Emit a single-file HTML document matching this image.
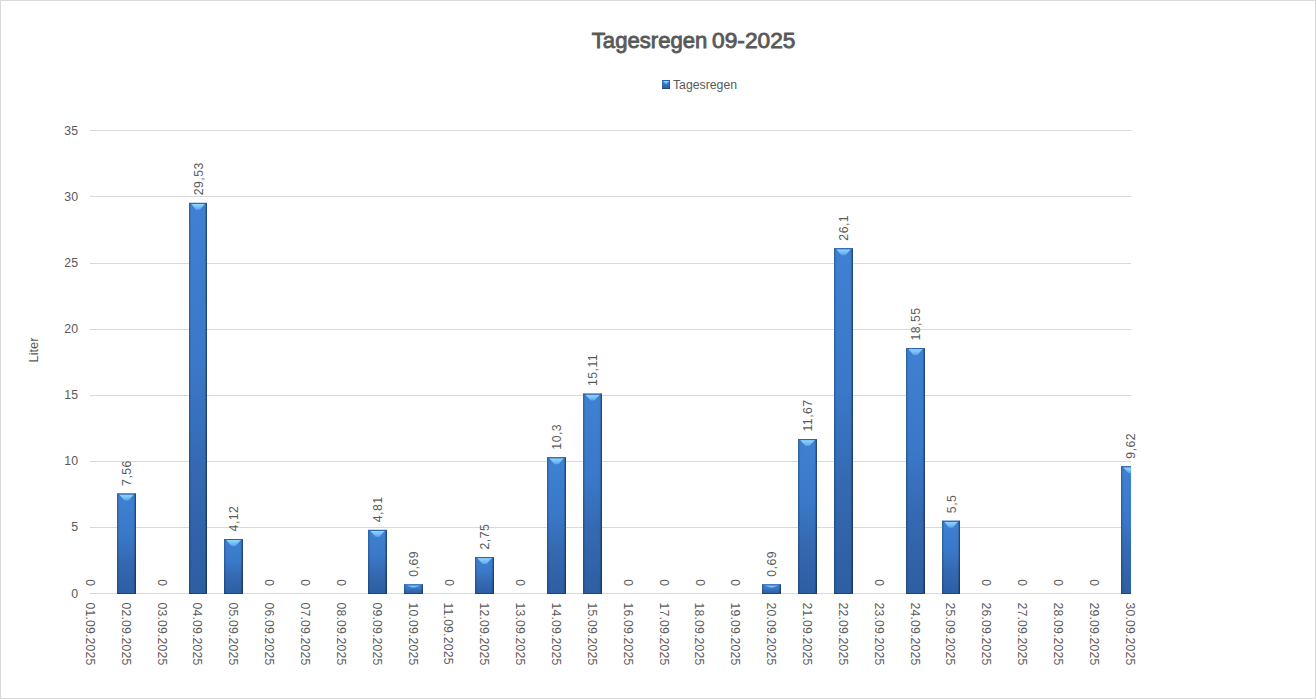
<!DOCTYPE html>
<html><head><meta charset="utf-8"><title>Tagesregen 09-2025</title>
<style>
html,body{margin:0;padding:0;background:#fff;}
body{width:1316px;height:699px;overflow:hidden;}
svg{display:block;font-family:"Liberation Sans", sans-serif;}
</style></head><body>
<svg width="1316" height="699" viewBox="0 0 1316 699">
<defs>
<linearGradient id="gv" x1="0" y1="0" x2="0" y2="1">
<stop offset="0" stop-color="#3f80d2"/>
<stop offset="0.4" stop-color="#3a79c9"/>
<stop offset="0.7" stop-color="#3468b0"/>
<stop offset="1" stop-color="#2c5ea2"/>
</linearGradient>
<linearGradient id="gh" x1="0" y1="0" x2="1" y2="0">
<stop offset="0" stop-color="#000" stop-opacity="0.28"/>
<stop offset="0.06" stop-color="#000" stop-opacity="0.12"/>
<stop offset="0.14" stop-color="#000" stop-opacity="0"/>
<stop offset="0.86" stop-color="#000" stop-opacity="0"/>
<stop offset="0.93" stop-color="#000" stop-opacity="0.2"/>
<stop offset="1" stop-color="#000" stop-opacity="0.55"/>
</linearGradient>
<linearGradient id="hl" x1="0" y1="0" x2="0" y2="1">
<stop offset="0" stop-color="#90d6fa"/>
<stop offset="0.45" stop-color="#7cc2f6"/>
<stop offset="1" stop-color="#58a0ea"/>
</linearGradient>
<clipPath id="pc"><rect x="90" y="0" width="1041" height="699"/></clipPath>
</defs>
<rect x="0.5" y="0.5" width="1315" height="698" fill="#fff" stroke="#d9d9d9" stroke-width="1"/>
<line x1="90" y1="593.5" x2="1131" y2="593.5" stroke="#d9d9d9" stroke-width="1"/>
<text x="78" y="597.60" text-anchor="end" font-size="12.3" fill="#595959">0</text>
<line x1="90" y1="527.5" x2="1131" y2="527.5" stroke="#d9d9d9" stroke-width="1"/>
<text x="78" y="531.46" text-anchor="end" font-size="12.3" fill="#595959">5</text>
<line x1="90" y1="461.5" x2="1131" y2="461.5" stroke="#d9d9d9" stroke-width="1"/>
<text x="78" y="465.31" text-anchor="end" font-size="12.3" fill="#595959">10</text>
<line x1="90" y1="395.5" x2="1131" y2="395.5" stroke="#d9d9d9" stroke-width="1"/>
<text x="78" y="399.17" text-anchor="end" font-size="12.3" fill="#595959">15</text>
<line x1="90" y1="329.5" x2="1131" y2="329.5" stroke="#d9d9d9" stroke-width="1"/>
<text x="78" y="333.03" text-anchor="end" font-size="12.3" fill="#595959">20</text>
<line x1="90" y1="263.5" x2="1131" y2="263.5" stroke="#d9d9d9" stroke-width="1"/>
<text x="78" y="266.89" text-anchor="end" font-size="12.3" fill="#595959">25</text>
<line x1="90" y1="196.5" x2="1131" y2="196.5" stroke="#d9d9d9" stroke-width="1"/>
<text x="78" y="200.74" text-anchor="end" font-size="12.3" fill="#595959">30</text>
<line x1="90" y1="130.5" x2="1131" y2="130.5" stroke="#d9d9d9" stroke-width="1"/>
<text x="78" y="134.60" text-anchor="end" font-size="12.3" fill="#595959">35</text>
<g clip-path="url(#pc)">
<rect x="117.00" y="493.49" width="19" height="100.51" fill="url(#gv)"/>
<path d="M119.20,494.49 L133.80,494.49 L128.50,500.49 L124.50,500.49 Z" fill="url(#hl)"/>
<rect x="117.00" y="493.49" width="19" height="100.51" fill="url(#gh)"/>
<line x1="117.00" y1="493.99" x2="136.00" y2="493.99" stroke="#2b60ac" stroke-width="1"/>
<line x1="117.00" y1="593.50" x2="136.00" y2="593.50" stroke="#1e4575" stroke-width="1"/>
<rect x="189.00" y="202.86" width="18" height="391.14" fill="url(#gv)"/>
<path d="M191.20,203.86 L204.80,203.86 L200.00,209.86 L196.00,209.86 Z" fill="url(#hl)"/>
<rect x="189.00" y="202.86" width="18" height="391.14" fill="url(#gh)"/>
<line x1="189.00" y1="203.36" x2="207.00" y2="203.36" stroke="#2b60ac" stroke-width="1"/>
<line x1="189.00" y1="593.50" x2="207.00" y2="593.50" stroke="#1e4575" stroke-width="1"/>
<rect x="224.00" y="539.00" width="19" height="55.00" fill="url(#gv)"/>
<path d="M226.20,540.00 L240.80,540.00 L235.50,546.00 L231.50,546.00 Z" fill="url(#hl)"/>
<rect x="224.00" y="539.00" width="19" height="55.00" fill="url(#gh)"/>
<line x1="224.00" y1="539.50" x2="243.00" y2="539.50" stroke="#2b60ac" stroke-width="1"/>
<line x1="224.00" y1="593.50" x2="243.00" y2="593.50" stroke="#1e4575" stroke-width="1"/>
<rect x="368.00" y="529.87" width="19" height="64.13" fill="url(#gv)"/>
<path d="M370.20,530.87 L384.80,530.87 L379.50,536.87 L375.50,536.87 Z" fill="url(#hl)"/>
<rect x="368.00" y="529.87" width="19" height="64.13" fill="url(#gh)"/>
<line x1="368.00" y1="530.37" x2="387.00" y2="530.37" stroke="#2b60ac" stroke-width="1"/>
<line x1="368.00" y1="593.50" x2="387.00" y2="593.50" stroke="#1e4575" stroke-width="1"/>
<rect x="404.00" y="584.37" width="19" height="9.63" fill="url(#gv)"/>
<path d="M406.20,585.37 L420.80,585.37 L414.49,587.84 L412.51,587.84 Z" fill="url(#hl)"/>
<rect x="404.00" y="584.37" width="19" height="9.63" fill="url(#gh)"/>
<line x1="404.00" y1="584.87" x2="423.00" y2="584.87" stroke="#2b60ac" stroke-width="1"/>
<line x1="404.00" y1="593.50" x2="423.00" y2="593.50" stroke="#1e4575" stroke-width="1"/>
<rect x="475.00" y="557.12" width="19" height="36.88" fill="url(#gv)"/>
<path d="M477.20,558.12 L491.80,558.12 L486.50,564.12 L482.50,564.12 Z" fill="url(#hl)"/>
<rect x="475.00" y="557.12" width="19" height="36.88" fill="url(#gh)"/>
<line x1="475.00" y1="557.62" x2="494.00" y2="557.62" stroke="#2b60ac" stroke-width="1"/>
<line x1="475.00" y1="593.50" x2="494.00" y2="593.50" stroke="#1e4575" stroke-width="1"/>
<rect x="547.00" y="457.25" width="19" height="136.75" fill="url(#gv)"/>
<path d="M549.20,458.25 L563.80,458.25 L558.50,464.25 L554.50,464.25 Z" fill="url(#hl)"/>
<rect x="547.00" y="457.25" width="19" height="136.75" fill="url(#gh)"/>
<line x1="547.00" y1="457.75" x2="566.00" y2="457.75" stroke="#2b60ac" stroke-width="1"/>
<line x1="547.00" y1="593.50" x2="566.00" y2="593.50" stroke="#1e4575" stroke-width="1"/>
<rect x="583.00" y="393.62" width="19" height="200.38" fill="url(#gv)"/>
<path d="M585.20,394.62 L599.80,394.62 L594.50,400.62 L590.50,400.62 Z" fill="url(#hl)"/>
<rect x="583.00" y="393.62" width="19" height="200.38" fill="url(#gh)"/>
<line x1="583.00" y1="394.12" x2="602.00" y2="394.12" stroke="#2b60ac" stroke-width="1"/>
<line x1="583.00" y1="593.50" x2="602.00" y2="593.50" stroke="#1e4575" stroke-width="1"/>
<rect x="762.00" y="584.37" width="19" height="9.63" fill="url(#gv)"/>
<path d="M764.20,585.37 L778.80,585.37 L772.49,587.84 L770.51,587.84 Z" fill="url(#hl)"/>
<rect x="762.00" y="584.37" width="19" height="9.63" fill="url(#gh)"/>
<line x1="762.00" y1="584.87" x2="781.00" y2="584.87" stroke="#2b60ac" stroke-width="1"/>
<line x1="762.00" y1="593.50" x2="781.00" y2="593.50" stroke="#1e4575" stroke-width="1"/>
<rect x="798.00" y="439.12" width="19" height="154.88" fill="url(#gv)"/>
<path d="M800.20,440.12 L814.80,440.12 L809.50,446.12 L805.50,446.12 Z" fill="url(#hl)"/>
<rect x="798.00" y="439.12" width="19" height="154.88" fill="url(#gh)"/>
<line x1="798.00" y1="439.62" x2="817.00" y2="439.62" stroke="#2b60ac" stroke-width="1"/>
<line x1="798.00" y1="593.50" x2="817.00" y2="593.50" stroke="#1e4575" stroke-width="1"/>
<rect x="834.00" y="248.23" width="19" height="345.77" fill="url(#gv)"/>
<path d="M836.20,249.23 L850.80,249.23 L845.50,255.23 L841.50,255.23 Z" fill="url(#hl)"/>
<rect x="834.00" y="248.23" width="19" height="345.77" fill="url(#gh)"/>
<line x1="834.00" y1="248.73" x2="853.00" y2="248.73" stroke="#2b60ac" stroke-width="1"/>
<line x1="834.00" y1="593.50" x2="853.00" y2="593.50" stroke="#1e4575" stroke-width="1"/>
<rect x="906.00" y="348.11" width="19" height="245.89" fill="url(#gv)"/>
<path d="M908.20,349.11 L922.80,349.11 L917.50,355.11 L913.50,355.11 Z" fill="url(#hl)"/>
<rect x="906.00" y="348.11" width="19" height="245.89" fill="url(#gh)"/>
<line x1="906.00" y1="348.61" x2="925.00" y2="348.61" stroke="#2b60ac" stroke-width="1"/>
<line x1="906.00" y1="593.50" x2="925.00" y2="593.50" stroke="#1e4575" stroke-width="1"/>
<rect x="942.00" y="520.74" width="18" height="73.26" fill="url(#gv)"/>
<path d="M944.20,521.74 L957.80,521.74 L953.00,527.74 L949.00,527.74 Z" fill="url(#hl)"/>
<rect x="942.00" y="520.74" width="18" height="73.26" fill="url(#gh)"/>
<line x1="942.00" y1="521.24" x2="960.00" y2="521.24" stroke="#2b60ac" stroke-width="1"/>
<line x1="942.00" y1="593.50" x2="960.00" y2="593.50" stroke="#1e4575" stroke-width="1"/>
<rect x="1121.00" y="466.24" width="19" height="127.76" fill="url(#gv)"/>
<path d="M1123.20,467.24 L1137.80,467.24 L1132.50,473.24 L1128.50,473.24 Z" fill="url(#hl)"/>
<rect x="1121.00" y="466.24" width="19" height="127.76" fill="url(#gh)"/>
<line x1="1121.00" y1="466.74" x2="1140.00" y2="466.74" stroke="#2b60ac" stroke-width="1"/>
<line x1="1121.00" y1="593.50" x2="1140.00" y2="593.50" stroke="#1e4575" stroke-width="1"/>
</g>
<text transform="translate(95.00,585.90) rotate(-90)" font-size="12.3" letter-spacing="0.45" fill="#595959">0</text>
<text transform="translate(130.86,485.89) rotate(-90)" font-size="12.3" letter-spacing="0.45" fill="#595959">7,56</text>
<text transform="translate(166.71,585.90) rotate(-90)" font-size="12.3" letter-spacing="0.45" fill="#595959">0</text>
<text transform="translate(202.57,195.26) rotate(-90)" font-size="12.3" letter-spacing="0.45" fill="#595959">29,53</text>
<text transform="translate(238.43,531.40) rotate(-90)" font-size="12.3" letter-spacing="0.45" fill="#595959">4,12</text>
<text transform="translate(274.29,585.90) rotate(-90)" font-size="12.3" letter-spacing="0.45" fill="#595959">0</text>
<text transform="translate(310.14,585.90) rotate(-90)" font-size="12.3" letter-spacing="0.45" fill="#595959">0</text>
<text transform="translate(346.00,585.90) rotate(-90)" font-size="12.3" letter-spacing="0.45" fill="#595959">0</text>
<text transform="translate(381.86,522.27) rotate(-90)" font-size="12.3" letter-spacing="0.45" fill="#595959">4,81</text>
<text transform="translate(417.71,576.77) rotate(-90)" font-size="12.3" letter-spacing="0.45" fill="#595959">0,69</text>
<text transform="translate(453.57,585.90) rotate(-90)" font-size="12.3" letter-spacing="0.45" fill="#595959">0</text>
<text transform="translate(489.43,549.52) rotate(-90)" font-size="12.3" letter-spacing="0.45" fill="#595959">2,75</text>
<text transform="translate(525.28,585.90) rotate(-90)" font-size="12.3" letter-spacing="0.45" fill="#595959">0</text>
<text transform="translate(561.14,449.65) rotate(-90)" font-size="12.3" letter-spacing="0.45" fill="#595959">10,3</text>
<text transform="translate(597.00,386.02) rotate(-90)" font-size="12.3" letter-spacing="0.45" fill="#595959">15,11</text>
<text transform="translate(632.86,585.90) rotate(-90)" font-size="12.3" letter-spacing="0.45" fill="#595959">0</text>
<text transform="translate(668.71,585.90) rotate(-90)" font-size="12.3" letter-spacing="0.45" fill="#595959">0</text>
<text transform="translate(704.57,585.90) rotate(-90)" font-size="12.3" letter-spacing="0.45" fill="#595959">0</text>
<text transform="translate(740.43,585.90) rotate(-90)" font-size="12.3" letter-spacing="0.45" fill="#595959">0</text>
<text transform="translate(776.28,576.77) rotate(-90)" font-size="12.3" letter-spacing="0.45" fill="#595959">0,69</text>
<text transform="translate(812.14,431.52) rotate(-90)" font-size="12.3" letter-spacing="0.45" fill="#595959">11,67</text>
<text transform="translate(848.00,240.63) rotate(-90)" font-size="12.3" letter-spacing="0.45" fill="#595959">26,1</text>
<text transform="translate(883.85,585.90) rotate(-90)" font-size="12.3" letter-spacing="0.45" fill="#595959">0</text>
<text transform="translate(919.71,340.51) rotate(-90)" font-size="12.3" letter-spacing="0.45" fill="#595959">18,55</text>
<text transform="translate(955.57,513.14) rotate(-90)" font-size="12.3" letter-spacing="0.45" fill="#595959">5,5</text>
<text transform="translate(991.42,585.90) rotate(-90)" font-size="12.3" letter-spacing="0.45" fill="#595959">0</text>
<text transform="translate(1027.28,585.90) rotate(-90)" font-size="12.3" letter-spacing="0.45" fill="#595959">0</text>
<text transform="translate(1063.14,585.90) rotate(-90)" font-size="12.3" letter-spacing="0.45" fill="#595959">0</text>
<text transform="translate(1099.00,585.90) rotate(-90)" font-size="12.3" letter-spacing="0.45" fill="#595959">0</text>
<text transform="translate(1134.85,458.64) rotate(-90)" font-size="12.3" letter-spacing="0.45" fill="#595959">9,62</text>
<text transform="translate(85.85,602.5) rotate(90)" font-size="12.3" letter-spacing="0.15" fill="#595959">01.09.2025</text>
<text transform="translate(121.71,602.5) rotate(90)" font-size="12.3" letter-spacing="0.15" fill="#595959">02.09.2025</text>
<text transform="translate(157.56,602.5) rotate(90)" font-size="12.3" letter-spacing="0.15" fill="#595959">03.09.2025</text>
<text transform="translate(193.42,602.5) rotate(90)" font-size="12.3" letter-spacing="0.15" fill="#595959">04.09.2025</text>
<text transform="translate(229.28,602.5) rotate(90)" font-size="12.3" letter-spacing="0.15" fill="#595959">05.09.2025</text>
<text transform="translate(265.13,602.5) rotate(90)" font-size="12.3" letter-spacing="0.15" fill="#595959">06.09.2025</text>
<text transform="translate(300.99,602.5) rotate(90)" font-size="12.3" letter-spacing="0.15" fill="#595959">07.09.2025</text>
<text transform="translate(336.85,602.5) rotate(90)" font-size="12.3" letter-spacing="0.15" fill="#595959">08.09.2025</text>
<text transform="translate(372.71,602.5) rotate(90)" font-size="12.3" letter-spacing="0.15" fill="#595959">09.09.2025</text>
<text transform="translate(408.56,602.5) rotate(90)" font-size="12.3" letter-spacing="0.15" fill="#595959">10.09.2025</text>
<text transform="translate(444.42,602.5) rotate(90)" font-size="12.3" letter-spacing="0.15" fill="#595959">11.09.2025</text>
<text transform="translate(480.28,602.5) rotate(90)" font-size="12.3" letter-spacing="0.15" fill="#595959">12.09.2025</text>
<text transform="translate(516.13,602.5) rotate(90)" font-size="12.3" letter-spacing="0.15" fill="#595959">13.09.2025</text>
<text transform="translate(551.99,602.5) rotate(90)" font-size="12.3" letter-spacing="0.15" fill="#595959">14.09.2025</text>
<text transform="translate(587.85,602.5) rotate(90)" font-size="12.3" letter-spacing="0.15" fill="#595959">15.09.2025</text>
<text transform="translate(623.71,602.5) rotate(90)" font-size="12.3" letter-spacing="0.15" fill="#595959">16.09.2025</text>
<text transform="translate(659.56,602.5) rotate(90)" font-size="12.3" letter-spacing="0.15" fill="#595959">17.09.2025</text>
<text transform="translate(695.42,602.5) rotate(90)" font-size="12.3" letter-spacing="0.15" fill="#595959">18.09.2025</text>
<text transform="translate(731.28,602.5) rotate(90)" font-size="12.3" letter-spacing="0.15" fill="#595959">19.09.2025</text>
<text transform="translate(767.13,602.5) rotate(90)" font-size="12.3" letter-spacing="0.15" fill="#595959">20.09.2025</text>
<text transform="translate(802.99,602.5) rotate(90)" font-size="12.3" letter-spacing="0.15" fill="#595959">21.09.2025</text>
<text transform="translate(838.85,602.5) rotate(90)" font-size="12.3" letter-spacing="0.15" fill="#595959">22.09.2025</text>
<text transform="translate(874.70,602.5) rotate(90)" font-size="12.3" letter-spacing="0.15" fill="#595959">23.09.2025</text>
<text transform="translate(910.56,602.5) rotate(90)" font-size="12.3" letter-spacing="0.15" fill="#595959">24.09.2025</text>
<text transform="translate(946.42,602.5) rotate(90)" font-size="12.3" letter-spacing="0.15" fill="#595959">25.09.2025</text>
<text transform="translate(982.27,602.5) rotate(90)" font-size="12.3" letter-spacing="0.15" fill="#595959">26.09.2025</text>
<text transform="translate(1018.13,602.5) rotate(90)" font-size="12.3" letter-spacing="0.15" fill="#595959">27.09.2025</text>
<text transform="translate(1053.99,602.5) rotate(90)" font-size="12.3" letter-spacing="0.15" fill="#595959">28.09.2025</text>
<text transform="translate(1089.85,602.5) rotate(90)" font-size="12.3" letter-spacing="0.15" fill="#595959">29.09.2025</text>
<text transform="translate(1125.70,602.5) rotate(90)" font-size="12.3" letter-spacing="0.15" fill="#595959">30.09.2025</text>
<text transform="translate(38.3,362.5) rotate(-90)" font-size="13" fill="#595959" textLength="25" lengthAdjust="spacingAndGlyphs">Liter</text>
<text x="591.8" y="47.7" font-size="22.1" font-weight="normal" fill="#595959" stroke="#595959" stroke-width="0.85" textLength="115.5" lengthAdjust="spacingAndGlyphs">Tagesregen</text>
<text x="712.1" y="47.7" font-size="22.1" font-weight="normal" fill="#595959" stroke="#595959" stroke-width="0.85" textLength="83.3" lengthAdjust="spacingAndGlyphs">09-2025</text>
<rect x="662" y="80" width="8" height="9" fill="url(#gv)"/>
<path d="M663,81 L669,81 L666.5,84 L665.5,84 Z" fill="url(#hl)"/>
<rect x="662" y="80" width="8" height="9" fill="url(#gh)"/>
<line x1="662" y1="80.5" x2="670" y2="80.5" stroke="#2b60ac"/>
<line x1="662" y1="88.5" x2="670" y2="88.5" stroke="#1e4575"/>
<text x="673" y="88.8" font-size="12.3" fill="#595959" textLength="64" lengthAdjust="spacingAndGlyphs">Tagesregen</text>
</svg>
</body></html>
